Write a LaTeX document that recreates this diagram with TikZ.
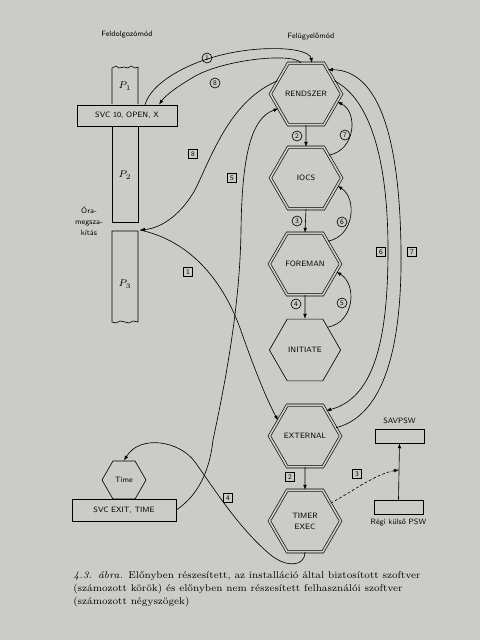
\documentclass[tikz,border=0pt]{standalone}
\usetikzlibrary{shapes.geometric,arrows.meta,calc}
\definecolor{paper}{RGB}{203,203,199}

\begin{document}
\begin{tikzpicture}[x=0.025cm,y=-0.025cm,line width=0.45pt,
  lbl/.style={font=\fontsize{5.5}{8}\selectfont\sffamily},
  hexbase/.style={regular polygon, regular polygon sides=6, inner sep=0pt, draw, lbl, align=center},
  hexa/.style={hexbase, minimum size=1.78cm, double=paper, double distance=1.2pt},
  box/.style={draw, inner sep=0pt, lbl},
  circ/.style={circle, draw, inner sep=0pt, minimum size=0.25cm, font=\fontsize{5}{6}\selectfont\sffamily},
  sq/.style={draw, inner sep=0pt, minimum size=0.24cm, font=\fontsize{5}{6}\selectfont\sffamily},
  arr/.style={-{Latex[length=3.5pt,width=2.6pt]}}]

\fill[paper] (0,0) rectangle (480,640);
\useasboundingbox (0,0) rectangle (480,640);

\node[lbl] (procmode) at (127,35) {Feldolgozómód};
\node[lbl] (supmode) at (311,37) {Felügyelőmód};

% left column
\draw (112,104) -- (112,68) -- (116,66) -- (119,68) -- (124,67) -- (128,68) -- (131,66) -- (135,68) -- (138,67) -- (138,104);
\draw (112,126) -- (112,222) -- (138,222) -- (138,126);
\draw (138,231) -- (112,231) -- (112,322) -- (116,323) -- (120,321) -- (125,322) -- (129,323) -- (133,321) -- (138,322) -- (138,231);
\node[box, minimum width=2.5cm, minimum height=0.525cm] (svcopen) at (127,115.5) {SVC 10, OPEN, X};
\node (p1) at (125,86) {\scriptsize $P_1$};
\node (p2) at (125,175) {\scriptsize $P_2$};
\node (p3) at (125,284) {\scriptsize $P_3$};
\node[lbl, align=center] (ora) at (89,221) {Óra-\\megsza-\\kítás};
\coordinate (gap) at (140,230);

% supervisor routines
\node[hexa] (ren) at (306,94) {RENDSZER};
\node[hexa] (iocs) at (306,178) {IOCS};
\node[hexa] (fore) at (305,264) {FOREMAN};
\node[hexbase, minimum size=1.78cm] (init) at (305,350) {INITIATE};
\node[hexa] (ext) at (305,436) {EXTERNAL};
\node[hexa] (timer) at (305,521) {TIMER\\EXEC};

\node[hexbase, minimum size=1.1cm] (timehex) at (124,480) {Time};
\node[box, minimum width=2.6cm, minimum height=0.55cm] (svcexit) at (124,510) {SVC EXIT, TIME};

\node[box, minimum width=1.225cm, minimum height=0.35cm] (savpsw) at (399.5,436) {};
\node[box, minimum width=1.225cm, minimum height=0.35cm] (regipsw) at (398.5,507) {};
\node[lbl, above=0pt] at (savpsw.north) {SAVPSW};
\node[lbl, below=0pt] at (regipsw.south) {Régi külső PSW};

% installation software
\draw[arr] ($(svcopen.north)+(18,0)$) .. controls (152,80) and (200,53) .. (260,49) .. controls (292,47) and (310,52) .. ($(ren.north)+(6,0)$);
\draw[arr] ($(ren.north)+(-5,0)$) .. controls (292,52) and (220,60) .. (192,78) .. controls (175,88) and (165,96) .. ($(svcopen.north)+(32,0)$);
\node[circ] at (207,58) {1};
\node[circ] at (215,83) {8};

\draw[arr] (ren.south) -- (iocs.north);
\draw[arr] (iocs.south) -- (fore.north);
\draw[arr] (fore.south) -- (init.north);
\node[circ] at (297,136) {2};
\node[circ] at (297,221) {3};
\node[circ] at (296,304) {4};

\draw[arr] (iocs.45) .. controls (356,150) and (358,112) .. (ren.-14);
\draw[arr] (fore.45) .. controls (355,236) and (357,198) .. (iocs.-14);
\draw[arr] (init.45) .. controls (355,322) and (357,284) .. (fore.-14);
\node[circ] at (345,135) {7};
\node[circ] at (342,222) {6};
\node[circ] at (342,303) {5};

% user software
\draw[arr] (ren.155) .. controls (232,100) and (214,150) .. (196,188) .. controls (182,214) and (162,228) .. (gap);
\draw[arr] (gap) .. controls (200,243) and (228,295) .. (240,328) .. controls (254,368) and (266,398) .. (ext.150);
\draw[arr] (svcexit.east) .. controls (200,494) and (210,468) .. (213,440) .. controls (228,370) and (240,300) .. (241,230) .. controls (242,160) and (250,118) .. (ren.208);
\draw[arr] (timer.south) .. controls (305,566) and (288,568) .. (272,556) .. controls (240,530) and (215,490) .. (195,462) .. controls (180,441) and (140,434) .. (timehex.north);
\draw[arr] (ren.25) .. controls (372,100) and (388,165) .. (388,250) .. controls (388,340) and (374,398) .. (ext.50);
\draw[arr] (ext.15) .. controls (390,414) and (402,330) .. (401,250) .. controls (400,160) and (386,70) .. (ren.48);
\draw[arr] (ext.south) -- (timer.north);
\draw[arr] (regipsw.north) -- (savpsw.south);
\coordinate (pswmid) at ($(regipsw.north)!0.53!(savpsw.south)$);
\draw[arr, dash pattern=on 2pt off 1.5pt] (timer.35) .. controls (352,492) and (375,474) .. (pswmid);

\node[sq] at (193,154) {8};
\node[sq] at (232,178) {5};
\node[sq] at (188,272) {1};
\node[sq] at (228,498) {4};
\node[sq] at (290,477) {2};
\node[sq] at (357,474) {3};
\node[sq] at (381,252) {6};
\node[sq] at (412,252) {7};

\node[anchor=north west, align=left, inner sep=0pt, font=\fontsize{7}{9.2}\selectfont] (cap) at (73,571) {\textit{4.3. ábra.} Előnyben részesített, az installáció által biztosított szoftver\\(számozott körök) és előnyben nem részesített felhasználói szoftver\\(számozott négyszögek)};

\end{tikzpicture}
\end{document}
